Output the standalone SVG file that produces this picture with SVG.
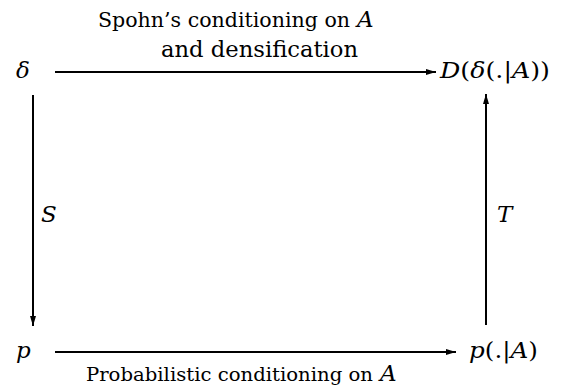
<svg xmlns="http://www.w3.org/2000/svg" width="573" height="385" viewBox="0 0 573 385">
<style>
text{font-family:"DejaVu Serif",serif;font-size:23px;fill:#000}
.m{font-style:italic}
.s20{font-size:20px}
.s19{font-size:19px}
.c{stroke:#000;stroke-width:2;fill:none}
</style>
<defs>
<marker id="ah" viewBox="0 0 10 6" refX="10" refY="3" markerWidth="10" markerHeight="6" markerUnits="userSpaceOnUse" orient="auto">
<path d="M0,0 L10,3 L0,6 Z" fill="#000"/>
</marker>
</defs>
<rect width="573" height="385" fill="#fff"/>
<g id="connectors">
<line class="c" x1="55" y1="72" x2="436" y2="72" marker-end="url(#ah)"/>
<line class="c" x1="55" y1="352" x2="456" y2="352" marker-end="url(#ah)"/>
<line class="c" x1="33" y1="95" x2="33" y2="326" marker-end="url(#ah)"/>
<line class="c" x1="486" y1="325" x2="486" y2="94" marker-end="url(#ah)"/>
</g>
<g id="labels">
<text class="s20" x="98" y="27" textLength="252" lengthAdjust="spacingAndGlyphs">Spohn’s conditioning on</text>
<text class="m" x="357" y="27">A</text>
<text x="161" y="57" textLength="197" lengthAdjust="spacingAndGlyphs">and densification</text>
<text class="s19" x="86" y="381" textLength="287" lengthAdjust="spacingAndGlyphs">Probabilistic conditioning on</text>
<text class="m" x="380" y="381">A</text>
<text class="m" x="41" y="222">S</text>
<text class="m" x="497" y="222">T</text>
</g>
<g id="n-delta"><text class="m" x="16" y="78">δ</text></g>
<g id="n-D"><text x="440" y="78" textLength="110" lengthAdjust="spacingAndGlyphs"><tspan class="m">D</tspan>(<tspan class="m">δ</tspan>(.|<tspan class="m">A</tspan>))</text></g>
<g id="n-p"><text class="m" x="16" y="358">p</text></g>
<g id="n-pA"><text x="469" y="358" textLength="69" lengthAdjust="spacingAndGlyphs"><tspan class="m">p</tspan>(.|<tspan class="m">A</tspan>)</text></g>
</svg>
